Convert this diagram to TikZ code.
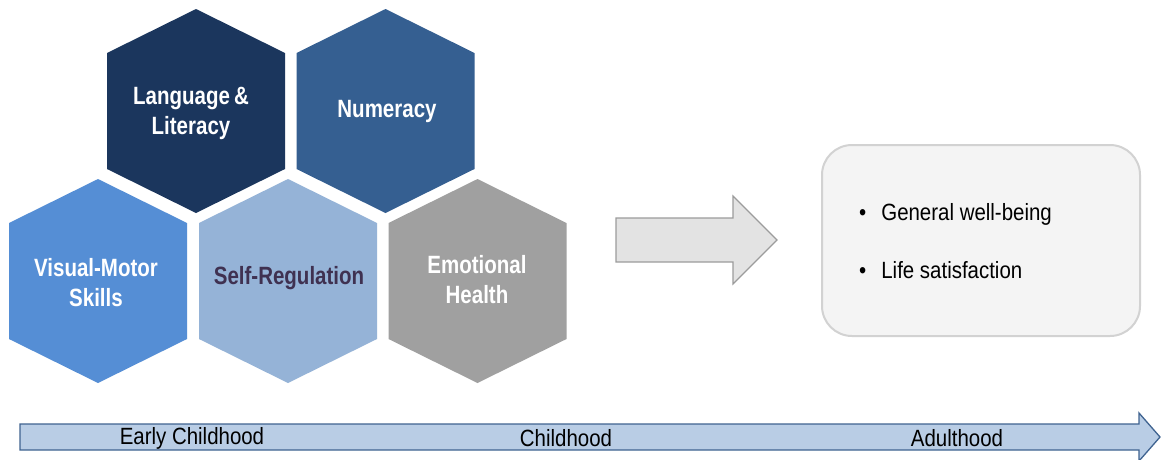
\documentclass[tikz,border=0pt]{standalone}
\usepackage{fontspec}
\setmainfont{Liberation Sans}
\newfontfamily\hexfont[FakeStretch=0.82]{Liberation Sans}
\newfontfamily\bodyfont[FakeStretch=0.87]{Liberation Sans}
\definecolor{hexA}{HTML}{1B365D}
\definecolor{hexB}{HTML}{355F91}
\definecolor{hexC}{HTML}{558ED5}
\definecolor{hexD}{HTML}{95B3D7}
\definecolor{hexE}{HTML}{A0A0A0}
\definecolor{srtext}{HTML}{3F3151}
\definecolor{arrfill}{HTML}{E3E3E3}
\definecolor{arrline}{HTML}{9C9C9C}
\definecolor{boxfill}{HTML}{F4F4F4}
\definecolor{boxline}{HTML}{D2D2D2}
\definecolor{tlfill}{HTML}{B9CDE5}
\definecolor{tlline}{HTML}{3F6390}
\tikzset{
  hextext/.style={align=center, font=\hexfont\bfseries\fontsize{25}{30}\selectfont, text=white, inner sep=0pt},
  bodytext/.style={font=\bodyfont\fontsize{23.5}{27}\selectfont, text=black, inner sep=0pt},
}
\newcommand{\hexshape}[3]{%
  \fill[#3] (#1,#2) ++(0,-102) -- ++(89,44) -- ++(0,116) -- ++(-89,44) -- ++(-89,-44) -- ++(0,-116) -- cycle;}
\begin{document}
\begin{tikzpicture}[x=1pt,y=-1pt]
\useasboundingbox (0,0) rectangle (1161,459);
\fill[white] (0,0) rectangle (1161,459);
% hexagons
\hexshape{196}{111}{hexA}
\hexshape{385.5}{111}{hexB}
\hexshape{98}{281}{hexC}
\hexshape{288}{281}{hexD}
\hexshape{477.5}{281}{hexE}
\node[hextext] (lang) at (191,113) {Language\,\&\\Literacy};
\node[hextext] (num) at (387,111) {Numeracy};
\node[hextext] (vms) at (96,283) {Visual-Motor\\Skills};
\node[hextext, text=srtext] (sr) at (289,278) {Self-Regulation};
\node[hextext] (emo) at (477,280) {Emotional\\Health};
% block arrow
\draw[fill=arrfill, draw=arrline, line width=1.2pt, line join=miter]
  (616,218) -- (733,218) -- (733,196) -- (777,240) -- (733,284) -- (733,262) -- (616,262) -- cycle;
% outcome box
\node[draw=boxline, fill=boxfill, line width=2pt, rounded corners=30pt,
      minimum width=318pt, minimum height=191pt, anchor=north west] (box) at (821,144) {};
\node[bodytext, anchor=west] (b1) at (859,214) {\textbullet\hspace{15pt}General well-being};
\node[bodytext, anchor=west] (b2) at (859,270) {\textbullet\hspace{15pt}Life satisfaction};
% timeline arrow
\draw[fill=tlfill, draw=tlline, line width=1.3pt, line join=miter]
  (20,424) -- (1139,424) -- (1139,413) -- (1160,437) -- (1139,461) -- (1139,450) -- (20,450) -- cycle;
\node[bodytext] (ec) at (192,438) {Early Childhood};
\node[bodytext] (ch) at (566,438) {Childhood};
\node[bodytext] (ad) at (957,438) {Adulthood};
\end{tikzpicture}
\end{document}
